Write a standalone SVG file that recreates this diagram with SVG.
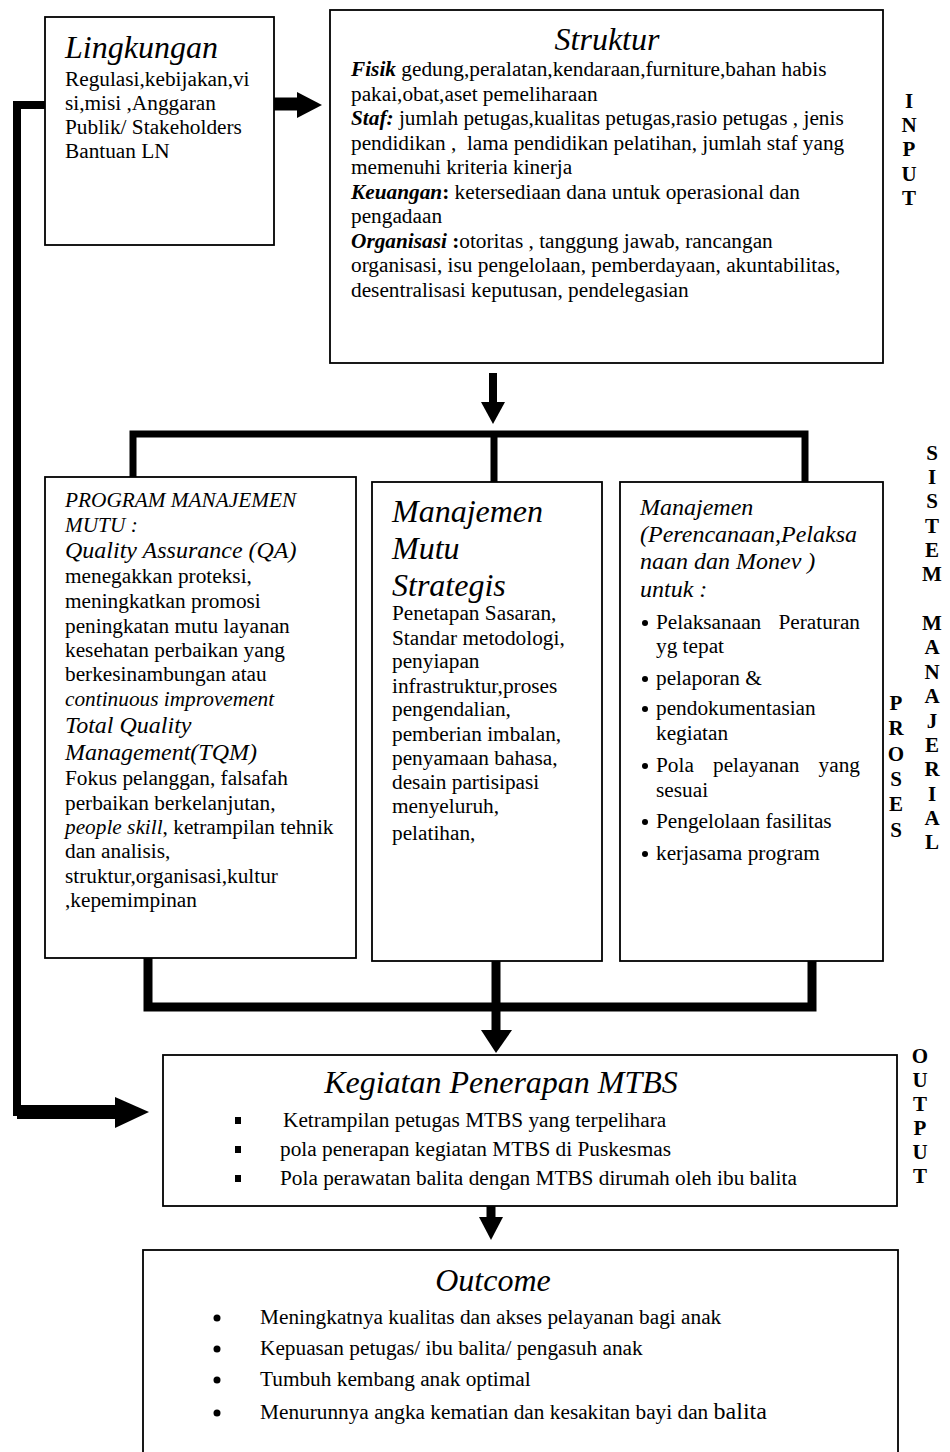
<svg xmlns="http://www.w3.org/2000/svg" width="950" height="1452" viewBox="0 0 950 1452">
  <style>
    .box { fill: #fff; stroke: #000; stroke-width: 1.8; }
    .t { font-family: "Liberation Serif", "Times New Roman", serif; font-size: 21.3px; fill: #000; }
    .i { font-style: italic; }
    .b { font-weight: bold; }
    .h { font-size: 32px; font-style: italic; }
    .h2 { font-size: 24px; font-style: italic; }
    .lab { font-family: "Liberation Serif", "Times New Roman", serif; font-size: 21px; font-weight: bold; text-anchor: middle; fill: #000; }
    .wire { fill: none; stroke: #000; stroke-linejoin: miter; stroke-linecap: butt; }
    .head { fill: #000; stroke: none; }
    .pre { white-space: pre; }
  </style>

  <!-- connectors -->
  <g id="connectors">
    <!-- feedback line from Lingkungan down to the output box -->
    <path class="wire" stroke-width="8" d="M45,105 H17 V1116"/>
    <path class="wire" stroke-width="14" d="M17,1112 H116"/>
    <polygon class="head" points="115,1097 149,1112 115,1128"/>
    <!-- Lingkungan to Struktur -->
    <path class="wire" stroke-width="13" d="M274,104 H298"/>
    <polygon class="head" points="297,92 322,105 297,118"/>
    <!-- Struktur down to the process bar -->
    <path class="wire" stroke-width="8" d="M493,373 V403"/>
    <polygon class="head" points="481,402 505,402 493,424"/>
    <!-- distribution bar to the three process boxes -->
    <path class="wire" stroke-width="7" d="M133,482 V434 H805 V482"/>
    <path class="wire" stroke-width="7" d="M494,434 V482"/>
    <!-- collecting bar under the process boxes -->
    <path class="wire" stroke-width="9" d="M148,958 V1007 H812 V961"/>
    <path class="wire" stroke-width="9" d="M496,961 V1031"/>
    <polygon class="head" points="481,1030 512,1030 496,1053"/>
    <!-- output to outcome -->
    <path class="wire" stroke-width="9" d="M491,1206 V1218"/>
    <polygon class="head" points="479,1217 503,1217 491,1240"/>
  </g>

  <!-- environment -->
  <g id="lingkungan">
    <rect class="box" x="45" y="17" width="229" height="228"/>
    <text class="t h" x="65" y="58">Lingkungan</text>
    <text class="t" x="65" y="86">Regulasi,kebijakan,vi</text>
    <text class="t" x="65" y="110">si,misi ,Anggaran</text>
    <text class="t" x="65" y="134">Publik/ Stakeholders</text>
    <text class="t" x="65" y="158">Bantuan LN</text>
  </g>

  <!-- structure -->
  <g id="struktur">
    <rect class="box" x="330" y="10" width="553" height="353"/>
    <text class="t h" x="607" y="50" text-anchor="middle">Struktur</text>
    <text class="t pre" x="351" y="76"><tspan class="b i">Fisik</tspan> gedung,peralatan,kendaraan,furniture,bahan habis</text>
    <text class="t" x="351" y="100.5">pakai,obat,aset pemeliharaan</text>
    <text class="t pre" x="351" y="125"><tspan class="b i">Staf:</tspan> jumlah petugas,kualitas petugas,rasio petugas , jenis</text>
    <text class="t pre" x="351" y="149.5">pendidikan ,  lama pendidikan pelatihan, jumlah staf yang</text>
    <text class="t" x="351" y="174">memenuhi kriteria kinerja</text>
    <text class="t pre" x="351" y="198.5"><tspan class="b i">Keuangan</tspan><tspan class="b">:</tspan> ketersediaan dana untuk operasional dan</text>
    <text class="t" x="351" y="223">pengadaan</text>
    <text class="t pre" x="351" y="247.5"><tspan class="b i">Organisasi</tspan><tspan class="b"> :</tspan>otoritas , tanggung jawab, rancangan</text>
    <text class="t" x="351" y="272">organisasi, isu pengelolaan, pemberdayaan, akuntabilitas,</text>
    <text class="t" x="351" y="296.5">desentralisasi keputusan, pendelegasian</text>
  </g>

  <g id="label-input">
    <text class="lab" x="909" y="108">I</text>
    <text class="lab" x="909" y="132">N</text>
    <text class="lab" x="909" y="156">P</text>
    <text class="lab" x="909" y="181">U</text>
    <text class="lab" x="909" y="205">T</text>
  </g>

  <!-- quality management programme -->
  <g id="program-mutu">
    <rect class="box" x="45" y="477" width="311" height="481"/>
    <text class="t i" x="65" y="507">PROGRAM MANAJEMEN</text>
    <text class="t i" x="65" y="532">MUTU :</text>
    <text class="t h2" x="65" y="558">Quality Assurance (QA)</text>
    <text class="t" x="65" y="583">menegakkan proteksi,</text>
    <text class="t" x="65" y="608">meningkatkan promosi</text>
    <text class="t" x="65" y="633">peningkatan mutu layanan</text>
    <text class="t" x="65" y="657">kesehatan perbaikan yang</text>
    <text class="t" x="65" y="681">berkesinambungan atau</text>
    <text class="t i" x="65" y="706">continuous improvement</text>
    <text class="t h2" x="65" y="733">Total Quality</text>
    <text class="t h2" x="65" y="760">Management(TQM)</text>
    <text class="t" x="65" y="785">Fokus pelanggan, falsafah</text>
    <text class="t" x="65" y="810">perbaikan berkelanjutan,</text>
    <text class="t" x="65" y="834"><tspan class="i">people skill</tspan>, ketrampilan tehnik</text>
    <text class="t" x="65" y="858">dan analisis,</text>
    <text class="t" x="65" y="883">struktur,organisasi,kultur</text>
    <text class="t" x="65" y="907">,kepemimpinan</text>
  </g>

  <!-- strategic quality management -->
  <g id="mutu-strategis">
    <rect class="box" x="372" y="482" width="230" height="479"/>
    <text class="t h" x="392" y="522">Manajemen</text>
    <text class="t h" x="392" y="559">Mutu</text>
    <text class="t h" x="392" y="596">Strategis</text>
    <text class="t" x="392" y="620">Penetapan Sasaran,</text>
    <text class="t" x="392" y="645">Standar metodologi,</text>
    <text class="t" x="392" y="668">penyiapan</text>
    <text class="t" x="392" y="693">infrastruktur,proses</text>
    <text class="t" x="392" y="716">pengendalian,</text>
    <text class="t" x="392" y="741">pemberian imbalan,</text>
    <text class="t" x="392" y="765">penyamaan bahasa,</text>
    <text class="t" x="392" y="789">desain partisipasi</text>
    <text class="t" x="392" y="813">menyeluruh,</text>
    <text class="t" x="392" y="840">pelatihan,</text>
  </g>

  <!-- planning, implementation and monitoring -->
  <g id="manajemen-monev">
    <rect class="box" x="620" y="482" width="263" height="479"/>
    <text class="t h2" x="640" y="515">Manajemen</text>
    <text class="t h2" x="640" y="542">(Perencanaan,Pelaksa</text>
    <text class="t h2" x="640" y="569">naan dan Monev )</text>
    <text class="t h2" x="640" y="597">untuk :</text>
    <circle cx="645" cy="623" r="3"/>
    <text class="t" x="656" y="629">Pelaksanaan</text>
    <text class="t" x="860" y="629" text-anchor="end">Peraturan</text>
    <text class="t" x="656" y="653">yg tepat</text>
    <circle cx="645" cy="679" r="3"/>
    <text class="t" x="656" y="685">pelaporan &amp;</text>
    <circle cx="645" cy="709" r="3"/>
    <text class="t" x="656" y="715">pendokumentasian</text>
    <text class="t" x="656" y="740">kegiatan</text>
    <circle cx="645" cy="766" r="3"/>
    <text class="t" x="656" y="772">Pola</text>
    <text class="t" x="713" y="772">pelayanan</text>
    <text class="t" x="860" y="772" text-anchor="end">yang</text>
    <text class="t" x="656" y="797">sesuai</text>
    <circle cx="645" cy="822" r="3"/>
    <text class="t" x="656" y="828">Pengelolaan fasilitas</text>
    <circle cx="645" cy="854" r="3"/>
    <text class="t" x="656" y="860">kerjasama program</text>
  </g>

  <g id="label-proses">
    <text class="lab" x="896" y="710">P</text>
    <text class="lab" x="896" y="735">R</text>
    <text class="lab" x="896" y="761">O</text>
    <text class="lab" x="896" y="786">S</text>
    <text class="lab" x="896" y="811">E</text>
    <text class="lab" x="896" y="837">S</text>
  </g>

  <g id="label-sistem-manajerial">
    <text class="lab" x="932" y="460">S</text>
    <text class="lab" x="932" y="484">I</text>
    <text class="lab" x="932" y="508">S</text>
    <text class="lab" x="932" y="533">T</text>
    <text class="lab" x="932" y="557">E</text>
    <text class="lab" x="932" y="581">M</text>
    <text class="lab" x="932" y="630">M</text>
    <text class="lab" x="932" y="654">A</text>
    <text class="lab" x="932" y="679">N</text>
    <text class="lab" x="932" y="703">A</text>
    <text class="lab" x="932" y="728">J</text>
    <text class="lab" x="932" y="752">E</text>
    <text class="lab" x="932" y="776">R</text>
    <text class="lab" x="932" y="801">I</text>
    <text class="lab" x="932" y="825">A</text>
    <text class="lab" x="932" y="849">L</text>
  </g>

  <!-- output -->
  <g id="kegiatan-mtbs">
    <rect class="box" x="163" y="1055" width="734" height="151"/>
    <text class="t h" x="501" y="1093" text-anchor="middle">Kegiatan Penerapan MTBS</text>
    <rect x="235" y="1117" width="6" height="7"/>
    <text class="t" x="283" y="1127">Ketrampilan petugas MTBS yang terpelihara</text>
    <rect x="235" y="1146" width="6" height="7"/>
    <text class="t" x="280" y="1156">pola penerapan kegiatan MTBS di Puskesmas</text>
    <rect x="235" y="1175" width="6" height="7"/>
    <text class="t" x="280" y="1185">Pola perawatan balita dengan MTBS dirumah oleh ibu balita</text>
  </g>

  <g id="label-output">
    <text class="lab" x="920" y="1063">O</text>
    <text class="lab" x="920" y="1087">U</text>
    <text class="lab" x="920" y="1111">T</text>
    <text class="lab" x="920" y="1135">P</text>
    <text class="lab" x="920" y="1159">U</text>
    <text class="lab" x="920" y="1183">T</text>
  </g>

  <!-- outcome -->
  <g id="outcome">
    <rect class="box" x="143" y="1250" width="755" height="215"/>
    <text class="t h" x="493" y="1291" text-anchor="middle">Outcome</text>
    <circle cx="217" cy="1318" r="3.5"/>
    <text class="t" x="260" y="1324">Meningkatnya kualitas dan akses pelayanan bagi anak</text>
    <circle cx="217" cy="1349" r="3.5"/>
    <text class="t" x="260" y="1355">Kepuasan petugas/ ibu balita/ pengasuh anak</text>
    <circle cx="217" cy="1380" r="3.5"/>
    <text class="t" x="260" y="1386">Tumbuh kembang anak optimal</text>
    <circle cx="217" cy="1413" r="3.5"/>
    <text class="t" x="260" y="1419">Menurunnya angka kematian dan kesakitan bayi dan <tspan font-size="24">balita</tspan></text>
  </g>
</svg>
